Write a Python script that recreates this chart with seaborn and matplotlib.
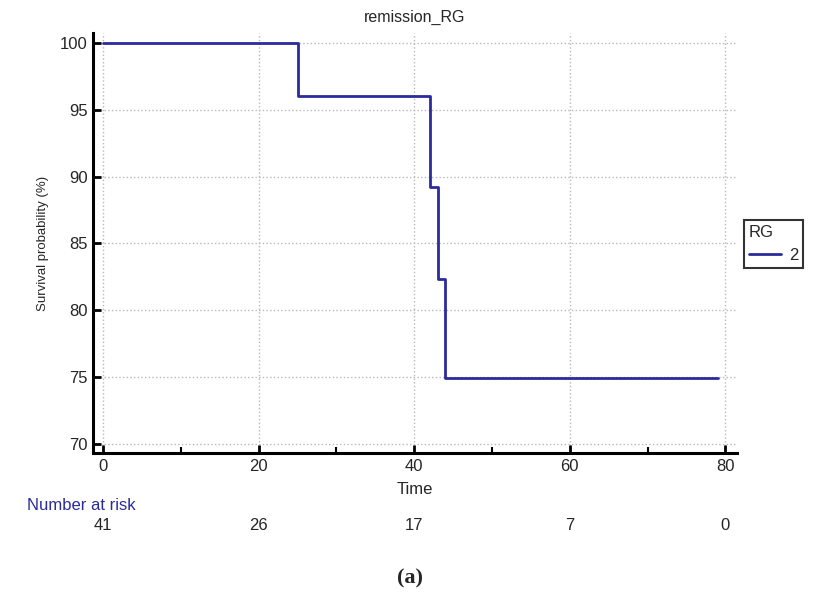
import matplotlib
matplotlib.use("Agg")
import matplotlib.pyplot as plt
import seaborn as sns
import pandas as pd
from matplotlib.ticker import MultipleLocator

# Data
times = [0, 25, 42, 43, 44, 79]
survival = [100, 96, 89.2, 82.3, 74.9, 74.9]
group = ["2"] * len(times)
risk_times = [0, 20, 40, 60, 80]
risk_counts = [41, 26, 17, 7, 0]

sns.set_theme(style="white")
plt.rcParams['font.family'] = ['Liberation Sans', 'DejaVu Sans']

df = pd.DataFrame({"Time": times, "Survival": survival, "RG": group})

fig = plt.figure(figsize=(8.19, 5.93), dpi=100)
ax = fig.add_axes([0.1136, 0.2361, 0.7863, 0.7083])

sns.lineplot(data=df, x="Time", y="Survival", hue="RG", palette=["#2b2b9c"],
             drawstyle="steps-post", linewidth=2, ax=ax, legend=True)

ax.set_xlim(-1.3, 81.5)
ax.set_ylim(69.3, 100.75)
ax.set_xticks([0, 20, 40, 60, 80])
ax.xaxis.set_minor_locator(MultipleLocator(10))
ax.set_yticks([70, 75, 80, 85, 90, 95, 100])
ax.tick_params(axis='both', which='major', direction='in', length=6, width=2,
               labelsize=12, color='black', left=True, bottom=True, pad=4)
ax.tick_params(axis='x', which='minor', direction='in', length=4, width=1.5,
               color='black', bottom=True)
ax.grid(True, which='major', color='#b8b8b8', linestyle=':', linewidth=1)

for s in ['top', 'right']:
    ax.spines[s].set_visible(False)
for s in ['left', 'bottom']:
    ax.spines[s].set_color('black')
    ax.spines[s].set_linewidth(2.2)

ax.set_title("remission_RG", fontsize=11.5, pad=8)
ax.set_xlabel("Time", fontsize=12, labelpad=6)
ax.set_ylabel("Survival probability (%)", fontsize=9.5, labelpad=8)

leg = ax.legend(title="RG", loc='upper left', bbox_to_anchor=(1.011, 0.555),
                frameon=True, fancybox=False, fontsize=12, title_fontsize=12,
                handlelength=1.9, borderpad=0.3, borderaxespad=0, handletextpad=0.5)
leg.get_frame().set_edgecolor('black')
leg.get_frame().set_linewidth(1.5)
leg._legend_box.align = "left"

# Number at risk table
fig.text(27 / 819, 1 - 506 / 593, "Number at risk", color="#2b2b9c", fontsize=12,
         ha='left', va='center')
for t, n in zip(risk_times, risk_counts):
    ax.annotate(str(n), xy=(t, 0), xycoords=('data', 'figure fraction'),
                xytext=(t, 1 - 525 / 593), textcoords=('data', 'figure fraction'),
                ha='center', va='center', fontsize=12)

fig.text(0.5, 1 - 578 / 593, "(a)", ha='center', va='center', fontsize=16,
         fontweight='bold', family=['Liberation Serif', 'DejaVu Serif'])

fig.savefig("out.png", dpi=100)
